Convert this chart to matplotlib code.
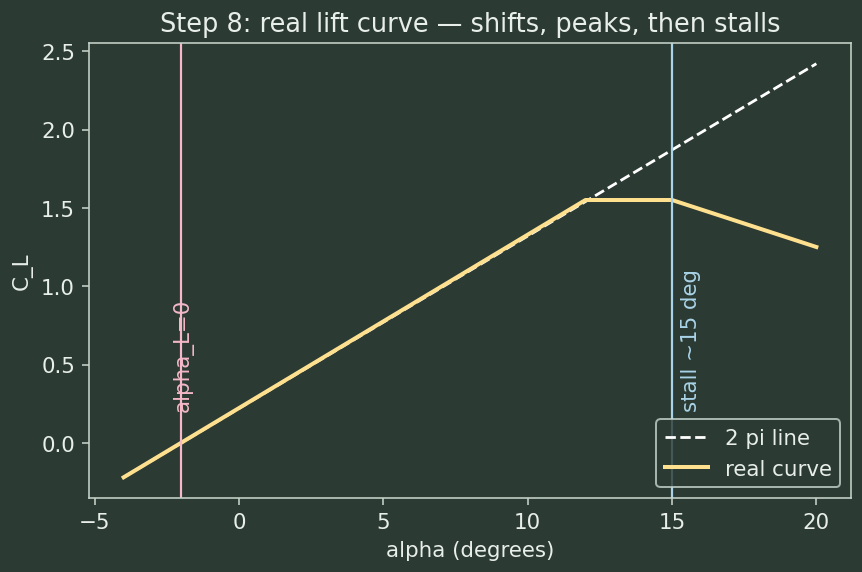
import matplotlib.pyplot as plt

# data
alpha_real = [-4, 12, 15, 20]
cl_real = [-0.22, 1.55, 1.55, 1.25]
alpha_2pi = [-4, 20]
cl_2pi = [-0.22, 2.42]
alpha_zero_lift = -2
alpha_stall = 15

bg = '#2b3a33'
fg = '#e8eee9'
spine = '#c5d3cb'

fig, ax = plt.subplots(figsize=(5.993, 3.979), dpi=144)
fig.patch.set_facecolor(bg)
ax.set_facecolor(bg)

ax.plot(alpha_2pi, cl_2pi, '--', color='white', linewidth=1.4, label='2 pi line')
ax.plot(alpha_real, cl_real, color='#ffe08f', linewidth=2.0, label='real curve')

ax.axvline(alpha_zero_lift, color='#f4b8c8', linewidth=1.1)
ax.axvline(alpha_stall, color='#a9d3e8', linewidth=1.1)
ax.text(alpha_zero_lift - 0.3, 0.2, 'alpha_L=0', color='#f4b8c8', rotation=90,
        va='bottom', ha='left', fontsize=10.7)
ax.text(alpha_stall + 0.3, 0.2, 'stall ~15 deg', color='#a9d3e8', rotation=90,
        va='bottom', ha='left', fontsize=10.7)

ax.set_title('Step 8: real lift curve — shifts, peaks, then stalls', color=fg, fontsize=12.8)
ax.set_xlabel('alpha (degrees)', color=fg, fontsize=10.7)
ax.set_ylabel('C_L', color=fg, fontsize=10.7)
ax.set_xticks([-5, 0, 5, 10, 15, 20])
ax.set_yticks([0.0, 0.5, 1.0, 1.5, 2.0, 2.5])
ax.tick_params(colors=spine, labelcolor=fg, labelsize=10.7)
for s in ax.spines.values():
    s.set_color(spine)

leg = ax.legend(loc='lower right', facecolor=bg, edgecolor=spine, fontsize=10.7)
for t in leg.get_texts():
    t.set_color(fg)

fig.tight_layout(pad=0.6)
fig.savefig('out.png', dpi=144, facecolor=bg)
